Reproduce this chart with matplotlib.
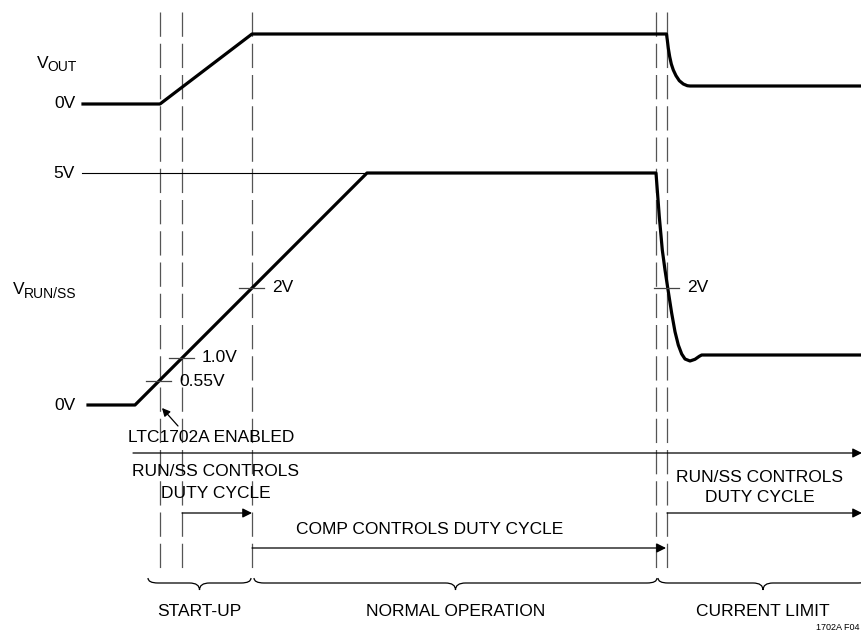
import numpy as np
import matplotlib
matplotlib.use("Agg")
import matplotlib.pyplot as plt
from matplotlib.path import Path
from matplotlib.patches import PathPatch

plt.rcParams["font.family"] = ["Liberation Sans", "DejaVu Sans"]
plt.rcParams["lines.scale_dashes"] = False

# ---------------------------------------------------------
# data (drawing units: x = time position, y = trace level, downwards)
# ---------------------------------------------------------
vout_t = [83, 160, 252, 666.5, 667.3, 668.3, 669.7, 671.3, 673.3, 676, 679.3,
          683.3, 687.3, 690, 862]
vout_v = [104, 104, 34, 34, 40, 48.3, 56.7, 64, 70, 75.7, 80.7,
          84, 85.7, 86, 86]

run_t = [88, 135, 367, 656, 659.3, 662.3, 665, 667.7, 671.7, 675, 678.3,
         681.7, 685, 690, 695, 699.3, 701.7, 862]
run_v = [405, 405, 173, 173, 216.7, 250, 270, 287.7, 313.3, 331.7, 345,
         354, 359, 361, 359.3, 356.3, 355, 355]

five_volt_t = [82, 367]
five_volt_v = 173

event_t = [160, 182, 252, 656, 667]

# threshold ticks on the run/ss trace
tick_t = [159, 182, 252, 667]
tick_v = [381, 358, 288, 288]
tick_labels = ["0.55V", "1.0V", "2V", "2V"]

# phases along the bottom
phase_names = ["START-UP", "NORMAL OPERATION", "CURRENT LIMIT"]
phase_start = [148, 254, 658]
phase_end = [251, 657, 868]

# ---------------------------------------------------------
# figure
# ---------------------------------------------------------
fig = plt.figure(figsize=(8.62, 6.32), dpi=100)
ax = fig.add_axes([0, 0, 1, 1])
ax.set_xlim(0, 862)
ax.set_ylim(632, 0)
ax.axis("off")

FS = 12.5
SUB = 10

# dashed event markers
for t in event_t:
    ax.plot([t, t], [12, 570], color="#555555", lw=0.9, linestyle=(0, (17.5, 5)))

# traces
ax.plot(vout_t, vout_v, color="black", lw=2.3, solid_joinstyle="round")
ax.plot(run_t, run_v, color="black", lw=2.3, solid_joinstyle="round")
ax.plot(five_volt_t, [five_volt_v, five_volt_v], color="black", lw=0.8)

# threshold ticks
for t, v, lab in zip(tick_t, tick_v, tick_labels):
    ax.plot([t - 12.5, t + 12.5], [v, v], color="#444444", lw=0.9)
    ax.text(t + 20, v, lab, fontsize=FS, ha="left", va="center")

# left labels
ax.text(37, 63, "V", fontsize=FS, ha="left", va="center")
ax.text(47.5, 67, "OUT", fontsize=SUB, ha="left", va="center")
ax.text(76, 104, "0V", fontsize=FS, ha="right", va="center")
ax.text(75, 173, "5V", fontsize=FS, ha="right", va="center")
ax.text(13, 289, "V", fontsize=FS, ha="left", va="center")
ax.text(24, 294, "RUN/SS", fontsize=SUB, ha="left", va="center")
ax.text(76, 405, "0V", fontsize=FS, ha="right", va="center")

# enable annotation
ax.annotate("", xy=(162, 408), xytext=(178, 426),
            arrowprops=dict(arrowstyle="-|>", color="black", lw=0.9,
                            mutation_scale=12, shrinkA=0, shrinkB=0))
ax.text(211, 438, "LTC1702A ENABLED", fontsize=FS, ha="center", va="center")

# time axis
ax.annotate("", xy=(862, 453), xytext=(133, 453),
            arrowprops=dict(arrowstyle="-|>", color="black", lw=0.9,
                            mutation_scale=14, shrinkA=0, shrinkB=0))

# control annotations
ax.text(216, 472, "RUN/SS CONTROLS", fontsize=FS, ha="center", va="center")
ax.text(216, 493, "DUTY CYCLE", fontsize=FS, ha="center", va="center")
ax.text(760, 478, "RUN/SS CONTROLS", fontsize=FS, ha="center", va="center")
ax.text(760, 498, "DUTY CYCLE", fontsize=FS, ha="center", va="center")
ax.text(430, 530, "COMP CONTROLS DUTY CYCLE", fontsize=FS, ha="center", va="center")

arrows = [(182, 252, 513), (252, 666, 548), (667, 862, 513)]
for a, b, y in arrows:
    ax.annotate("", xy=(b, y), xytext=(a, y),
                arrowprops=dict(arrowstyle="-|>", color="black", lw=0.9,
                                mutation_scale=14, shrinkA=0, shrinkB=0))


# ---------------------------------------------------------
# braces
# ---------------------------------------------------------
def brace(x0, x1, y=583, hook=5, tip=7, r=10):
    xm = (x0 + x1) / 2
    verts = [
        (x0, y - hook), (x0, y), (x0 + r, y),
        (xm - r, y),
        (xm, y), (xm, y + tip),
        (xm, y), (xm + r, y),
        (x1 - r, y),
        (x1, y), (x1, y - hook),
    ]
    codes = [
        Path.MOVETO, Path.CURVE3, Path.CURVE3,
        Path.LINETO,
        Path.CURVE3, Path.CURVE3,
        Path.CURVE3, Path.CURVE3,
        Path.LINETO,
        Path.CURVE3, Path.CURVE3,
    ]
    ax.add_patch(PathPatch(Path(verts, codes), facecolor="none",
                           edgecolor="black", lw=0.9))
    return xm


for name, a, b in zip(phase_names, phase_start, phase_end):
    xm = brace(a, b)
    ax.text(xm, 611, name, fontsize=FS, ha="center", va="center")

ax.text(860, 627, "1702A F04", fontsize=6.5, ha="right", va="center")

fig.savefig("out.png", dpi=100)
